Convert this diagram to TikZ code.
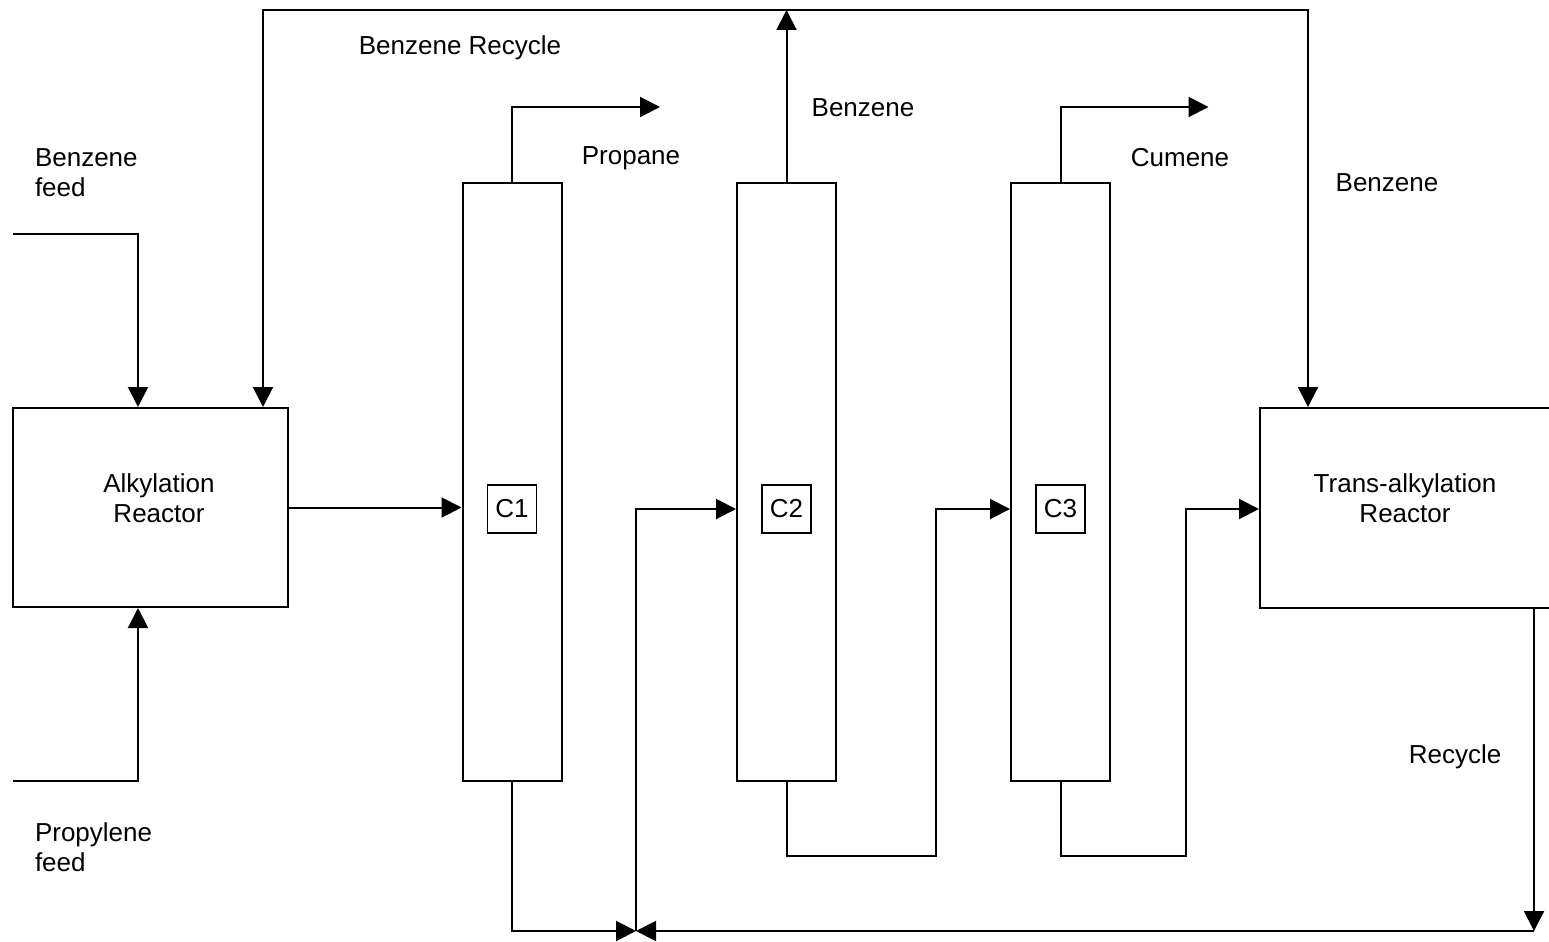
\documentclass[tikz,border=0pt]{standalone}
\usepackage{fontspec}
\setmainfont{Liberation Sans}
\usetikzlibrary{arrows.meta}

\tikzset{every picture/.style={line width=1.5pt}}
\tikzset{
  flow/.style={-{Triangle[length=15pt,width=15pt]}},
  unit/.style={draw,line width=1.5pt,inner sep=0pt},
  column/.style={unit,minimum width=74.25pt,minimum height=448.5pt},
  tag/.style={draw,line width=0.9pt,minimum width=36.75pt,minimum height=36pt,inner sep=0pt},
  txt/.style={inner sep=0pt,font=\fontsize{19.5}{22.5}\selectfont}
}

\begin{document}
\begin{tikzpicture}[x=0.75pt,y=0.75pt,yscale=-1,xscale=1]
	\useasboundingbox (0,0) rectangle (1549,942);
	\clip (0,0) rectangle (1549,942);
	
	%Shape: Reactors
	\node [unit,minimum width=206.25pt,minimum height=149.25pt] (alk) at (150.5,507.5) {};
	\node [txt,align=center] (alktxt) at (159,498) {Alkylation\\Reactor};
	\node [unit,minimum width=225pt,minimum height=150pt] (tr) at (1410,508) {};
	\node [txt,align=center] (trtxt) at (1405,498) {Trans-alkylation\\Reactor};
	
	%Shape: Columns
	\node [column] (c1) at (512,482) {};
	\node [column] (c2) at (786.5,482) {};
	\node [column] (c3) at (1060.5,482) {};
	\node [tag,txt] (c1lab) at (512,509) {C1};
	\node [tag,txt] (c2lab) at (786.5,509) {C2};
	\node [tag,txt] (c3lab) at (1060.5,509) {C3};
	
	%Points of the lines
	\coordinate (bzin) at (13,234);
	\coordinate (bzdown) at (138,234);
	\coordinate (prin) at (13,781);
	\coordinate (prup) at (138,781);
	\coordinate (rectop) at (263,10);
	\coordinate (rectopR) at (1308,10);
	\coordinate (junc) at (636,931);
	\coordinate (recbot) at (1534,931);
	\coordinate (c2riser) at (936,856);
	\coordinate (c3riser) at (1186,856);
	
	%Feeds
	\draw [flow] (bzin) -- (bzdown) -- (bzdown |- alk.north);
	\draw [flow] (prin) -- (prup) -- (prup |- alk.south);
	
	%Benzene recycle
	\draw [flow] (c2.north) -- (c2.north |- rectop);
	\draw [flow] (rectop -| c2.north) -- (rectop) -- (rectop |- alk.north);
	\draw [flow] (rectop -| c2.north) -- (rectopR) -- (rectopR |- tr.north);
	
	%Column tops
	\draw [flow] (c1.north) -- ++(0,-75) -- ++(148,0);
	\draw [flow] (c3.north) -- ++(0,-75) -- ++(148,0);
	
	%Main train
	\draw [flow] (alk.east) -- (alk.east -| c1.west);
	\draw [flow] (c1.south) |- (junc);
	\draw [flow] (recbot |- tr.south) -- (recbot);
	\draw [flow] (recbot) -- (junc);
	\draw [flow] (junc) |- (c2lab -| c2.west);
	\draw [flow] (c2.south) |- (c2riser) |- (c3lab -| c3.west);
	\draw [flow] (c3.south) |- (c3riser) |- (c3lab -| tr.west);
	
	%Labels
	\node [txt] (lrec) at (460,48) {Benzene Recycle};
	\node [txt] (lprop) at (631,158) {Propane};
	\node [txt] (lbz2) at (863,108) {Benzene};
	\node [txt] (lcum) at (1180,158) {Cumene};
	\node [txt] (lbz3) at (1387,183) {Benzene};
	\node [txt] (lrcy) at (1455,757) {Recycle};
	\node [txt,align=left,anchor=west] (lbzf) at (34,173) {Benzene\\feed};
	\node [txt,align=left,anchor=west] (lprf) at (34,847) {Propylene\\feed};
	
\end{tikzpicture}
\end{document}
